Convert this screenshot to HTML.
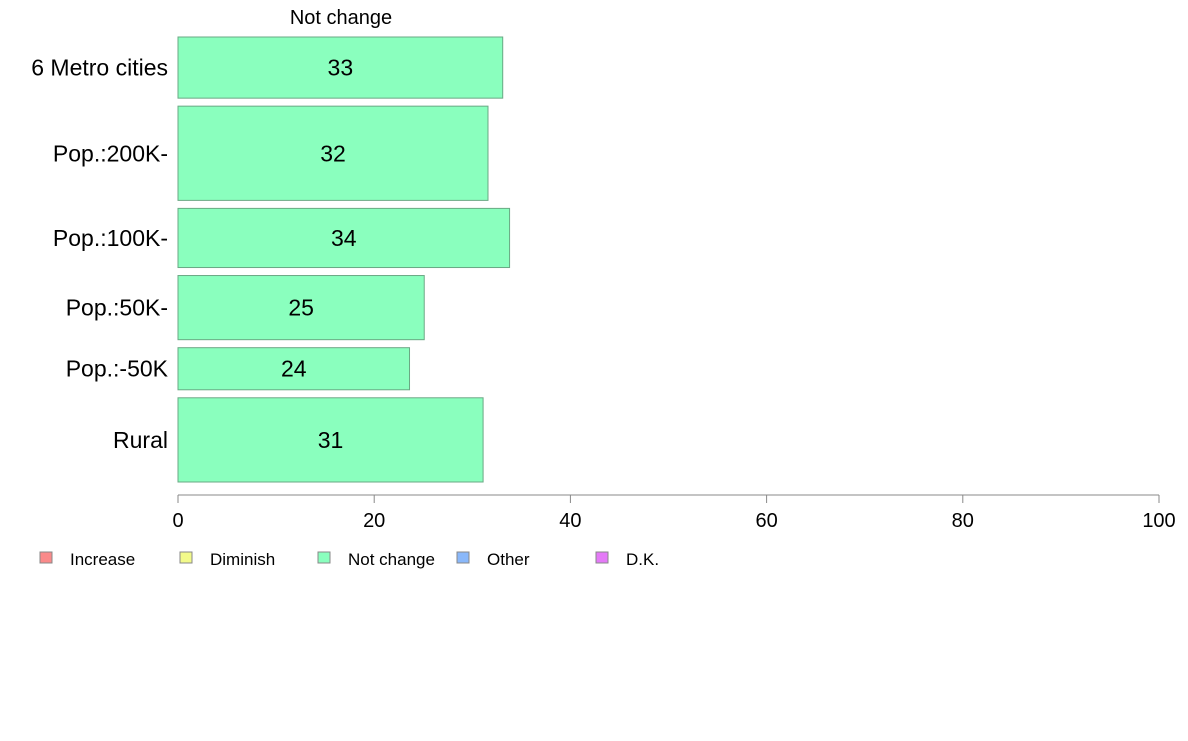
<!DOCTYPE html>
<html><head><meta charset="utf-8"><style>
body{margin:0;background:#fff;width:1188px;height:736px;overflow:hidden;font-family:"Liberation Sans",Arial,sans-serif}
</style></head><body>
<svg width="1188" height="736" id="c" font-family="Liberation Sans, Arial, sans-serif">
<text x="341" y="24" font-size="20" text-anchor="middle">Not change</text>
<line x1="178" y1="495" x2="1159" y2="495" stroke="#888"/>
<g id="bars"></g><g id="ticks"></g><g id="legend"></g>
</svg>
<script>
const categories=["6 Metro cities","Pop.:200K-","Pop.:100K-","Pop.:50K-","Pop.:-50K","Rural"];
const values=[33.1,31.6,33.8,25.1,23.6,31.1];
const labels=["33","32","34","25","24","31"];
const weights=[61,94,59,64,42,84];
const ticks=[0,20,40,60,80,100];
const legendNames=["Increase","Diminish","Not change","Other","D.K."];
const legendColors=["#fa8a8a","#f2fa8a","#8affbe","#8ab8fa","#e47af7"];
const NS="http://www.w3.org/2000/svg";
const xs=v=>178+v*9.81;
function mk(t,a,p){const e=document.createElementNS(NS,t);for(const k in a)e.setAttribute(k,a[k]);p.appendChild(e);return e;}
const gap=8,topY=37,total=482-topY-gap*(categories.length-1);
const wsum=weights.reduce((a,b)=>a+b,0);
let yy=topY;
const gb=document.getElementById('bars');
categories.forEach((c,i)=>{
 const h=weights[i]/wsum*total;
 const r=mk('rect',{x:xs(0),y:yy,width:xs(values[i])-xs(0),height:h,fill:'#8affbe',stroke:'#6aa884','stroke-width':1},gb);
 
 
 const t=mk('text',{x:(xs(0)+xs(values[i]))/2,y:yy+h/2+8,'font-size':23,'text-anchor':'middle'},gb);t.textContent=labels[i];
 
 
 const l=mk('text',{x:168,y:yy+h/2+8,'font-size':23,'text-anchor':'end'},gb);l.textContent=c;
 
 
 yy+=h+gap;
});
const gt=document.getElementById('ticks');
ticks.forEach(v=>{
 const tl=mk('line',{x1:xs(v),y1:495,x2:xs(v),y2:503,stroke:'#888'},gt);
 
 
 const t=mk('text',{x:xs(v),y:527,'font-size':20,'text-anchor':'middle'},gt);t.textContent=v;
 
 
});
const gl=document.getElementById('legend');
const lx=[40,180,318,457,596];
legendNames.forEach((n,i)=>{
 const r=mk('rect',{x:lx[i],y:552,width:12,height:11,fill:legendColors[i],stroke:'#888'},gl);
 
 
 const t=mk('text',{x:lx[i]+30,y:565,'font-size':17},gl);t.textContent=n;
 
 
});
</script>
</body></html>
